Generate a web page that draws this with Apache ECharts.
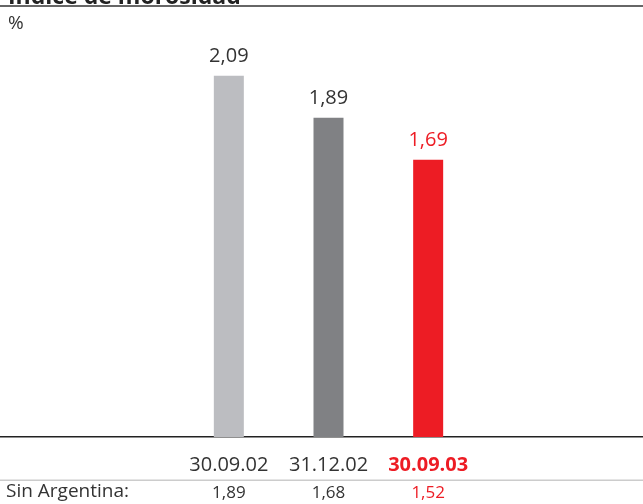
<!DOCTYPE html>
<html>
<head>
<meta charset="utf-8">
<script src="https://cdn.jsdelivr.net/npm/echarts@6/dist/echarts.min.js"></script>
<style>
  html, body { margin: 0; padding: 0; background: #fff; }
  #chart { width: 643px; height: 504px; }
</style>
</head>
<body>
<div id="chart"></div>
<script>
// Índice de morosidad (%) por fecha de cierre
const categories = ['30.09.02', '31.12.02', '30.09.03'];
const ratioValues = [2.09, 1.89, 1.69];
const sinArgentina = ['1,89', '1,68', '1,52'];
const barColors = ['#bcbdc1', '#808184', '#ed1c24'];
const labelColors = ['#333333', '#333333', '#ed1c24'];

const FONT = '"Open Sans", "Noto Sans", sans-serif';
const fmt = v => v.toFixed(2).replace('.', ',');

const chart = echarts.init(document.getElementById('chart'), null, { renderer: 'canvas' });

chart.setOption({
  animation: false,
  backgroundColor: '#ffffff',
  grid: { left: 179, right: 165, top: 17, bottom: 67, containLabel: false },
  xAxis: [
    {
      type: 'category',
      data: categories,
      axisLine: { show: false },
      axisTick: { show: false },
      axisLabel: {
        interval: 0,
        hideOverlap: false,
        margin: 18,
        fontFamily: FONT,
        fontSize: 20,
        color: '#333333',
        formatter: (v, i) => i === 2 ? '{hi|' + v + '}' : v,
        rich: { hi: { color: '#ed1c24', fontWeight: 'bold', fontSize: 20, fontFamily: FONT } }
      }
    },
    {
      type: 'category',
      position: 'bottom',
      data: categories,
      axisLine: { show: false },
      axisTick: { show: false },
      axisLabel: {
        interval: 0,
        hideOverlap: false,
        margin: 48,
        fontFamily: FONT,
        fontSize: 17,
        color: '#333333',
        formatter: (v, i) => i === 2 ? '{hi|' + sinArgentina[i] + '}' : sinArgentina[i],
        rich: { hi: { color: '#ed1c24', fontSize: 17, fontFamily: FONT } }
      }
    }
  ],
  yAxis: {
    type: 'value',
    min: 0.37,
    max: 2.37,
    show: false,
    splitLine: { show: false }
  },
  series: [{
    type: 'bar',
    barWidth: 30,
    data: ratioValues.map((v, i) => ({
      value: v,
      itemStyle: { color: barColors[i] },
      label: { color: labelColors[i] }
    })),
    label: {
      show: true,
      position: 'top',
      distance: 10,
      fontFamily: FONT,
      fontSize: 20,
      formatter: p => fmt(p.value)
    }
  }],
  graphic: [
    {
      type: 'text',
      x: 8,
      y: 8.5,
      z: 1,
      style: {
        text: 'Índice de morosidad', fontFamily: FONT, fontWeight: 'bold', fontSize: 23,
        fill: '#222222', verticalAlign: 'bottom'
      }
    },
    { type: 'rect', z: 2, shape: { x: 0, y: 5, width: 643, height: 2 }, style: { fill: '#666666' } },
    { type: 'rect', z: 2, shape: { x: 0, y: 7, width: 643, height: 8 }, style: { fill: '#ffffff' } },
    {
      type: 'text',
      left: 8,
      top: 14,
      z: 3,
      style: { text: '%', fontFamily: FONT, fontSize: 19, fill: '#333333' }
    },
    { type: 'rect', shape: { x: 0, y: 436, width: 643, height: 1.6 }, style: { fill: '#222222' } },
    { type: 'rect', shape: { x: 0, y: 479.5, width: 643, height: 1.5 }, style: { fill: '#cccccc' } },
    {
      type: 'text',
      left: 6,
      top: 482,
      style: { text: 'Sin Argentina:', fontFamily: FONT, fontSize: 19, fill: '#333333' }
    }
  ]
});
</script>
</body>
</html>
